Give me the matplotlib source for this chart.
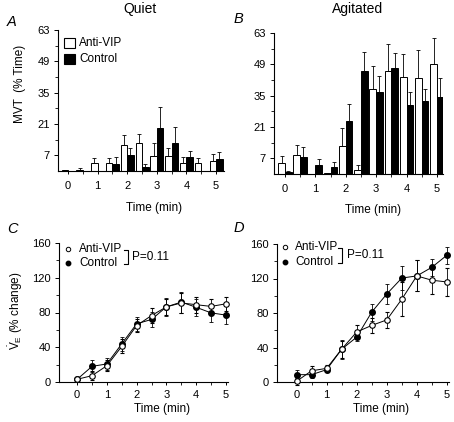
import numpy as np
import matplotlib
matplotlib.use("Agg")
import matplotlib.pyplot as plt
from matplotlib.lines import Line2D
from matplotlib.patches import Rectangle

plt.rcParams['font.family'] = ['Liberation Sans', 'DejaVu Sans']
plt.rcParams['mathtext.fontset'] = 'custom'
plt.rcParams['mathtext.rm'] = 'Liberation Sans'
plt.rcParams['mathtext.it'] = 'Liberation Sans:italic'

nan = np.nan
times = [0, 0.5, 1, 1.5, 2, 2.5, 3, 3.5, 4, 4.5, 5]

# Panel A (Quiet) MVT % time
anti_quiet = [0.4, 0.6, 3.4, 3.4, 11.5, 12.4, 6.9, 6.9, 3.4, 3.4, 4.4]
anti_quiet_err = [nan, 0.7, 2.4, 2.4, 4.4, 4.2, 5.5, 3.4, 2.7, 2.6, 3.2]
ctrl_quiet = [0, 0, 0, 3.1, 7.1, 2.0, 19.2, 12.4, 6.1, 0, 5.5]
ctrl_quiet_err = [nan, nan, nan, 3.0, 3.2, 1.1, 9.5, 7.1, 2.9, nan, 3.2]

# Panel B (Agitated)
anti_ag = [4.8, 8.5, 0, 0.6, 12.7, 1.8, 37.9, 46.2, 43.5, 42.8, 49.3]
anti_ag_err = [3.2, 4.6, nan, nan, 7.7, 2.2, 10.5, 11.9, 10.1, 12.6, 11.4]
ctrl_ag = [0.7, 7.6, 4.2, 3.3, 23.5, 45.9, 36.8, 47.2, 31.0, 32.5, 34.4]
ctrl_ag_err = [0.6, 4.6, 2.7, 2.2, 7.8, 8.6, 7.2, 6.7, 5.8, 5.5, 8.4]

# Panel C (Quiet) VE % change
anti_c = [3.1, 7.3, 18.8, 41, 65, 76.5, 86.5, 91, 89, 87, 90]
anti_c_err = [2, 5, 6, 8, 7, 9, 9, 12, 9, 8, 8]
ctrl_c = [3.1, 18, 20.8, 44, 67, 72, 86.5, 92, 86, 79.6, 77]
ctrl_c_err = [2, 7, 7, 8, 8, 9, 10, 12, 10, 10, 10]

# Panel D (Agitated)
anti_d = [0.8, 13, 15.8, 38, 58, 65.6, 72, 96, 123, 118, 116]
anti_d_err = [4, 5, 4, 10, 8, 9, 9, 20, 18, 16, 16]
ctrl_d = [8.5, 8.5, 14.3, 38, 52, 81, 102, 120.5, 123, 133, 147]
ctrl_d_err = [5, 4, 3, 11, 5, 10, 12, 14, 18, 10, 10]

W, H = 454, 422
fig = plt.figure(figsize=(W / 100, H / 100), dpi=100)


def axes_px(l, t, r, b):
    return fig.add_axes([l / W, 1 - b / H, (r - l) / W, (b - t) / H])


def ftext(x, y, s, **kw):
    fig.text(x / W, 1 - y / H, s, **kw)


def style(ax):
    for s in ['top', 'right']:
        ax.spines[s].set_visible(False)
    for s in ['left', 'bottom']:
        ax.spines[s].set_linewidth(0.8)
    ax.tick_params(axis='both', which='major', direction='out', length=3, width=0.7,
                   labelsize=8, pad=2)
    ax.tick_params(axis='y', which='major', pad=3)
    ax.tick_params(axis='both', which='minor', direction='out', length=2, width=0.6)


bw = 0.22


def bar_panel(ax, anti, anti_err, ctrl, ctrl_err, xlim):
    t = np.array(times)
    a = np.array(anti, float)
    c = np.array(ctrl, float)
    ax.bar(t - bw / 2, a, width=bw, color='white', edgecolor='black', linewidth=0.7, zorder=2)
    ax.bar(t + bw / 2, c, width=bw, color='black', edgecolor='black', linewidth=0.7, zorder=2)
    ae = np.array(anti_err, float)
    ce = np.array(ctrl_err, float)
    ax.errorbar(t - bw / 2, a, yerr=[np.zeros_like(ae), ae], fmt='none', ecolor='black',
                elinewidth=0.6, capsize=1.5, capthick=0.6, zorder=1)
    ax.errorbar(t + bw / 2, c, yerr=[np.zeros_like(ce), ce], fmt='none', ecolor='black',
                elinewidth=0.6, capsize=1.5, capthick=0.6, zorder=1)
    ax.set_ylim(0, 63)
    ax.set_xlim(*xlim)
    ax.set_yticks([7, 21, 35, 49, 63])
    ax.set_yticks([14, 28, 42, 56], minor=True)
    ax.set_xticks([0, 1, 2, 3, 4, 5])
    ax.set_xticks([0.5, 1.5, 2.5, 3.5, 4.5], minor=True)
    style(ax)
    ax.tick_params(axis='x', which='major', length=2, pad=5)
    ax.tick_params(axis='x', which='minor', length=2)


def line_panel(ax, anti, anti_err, ctrl, ctrl_err, xlim):
    t = np.array(times)
    ax.errorbar(t, ctrl, yerr=ctrl_err, fmt='-o', color='black', mfc='black', mec='black',
                ms=4, lw=0.7, elinewidth=0.6, capsize=1.5, capthick=0.6, clip_on=False, zorder=2)
    ax.errorbar(t, anti, yerr=anti_err, fmt='-o', color='black', mfc='white', mec='black',
                ms=4, mew=0.8, lw=0.7, elinewidth=0.6, capsize=1.5, capthick=0.6,
                clip_on=False, zorder=3)
    ax.set_ylim(0, 160)
    ax.set_xlim(*xlim)
    ax.set_yticks([0, 40, 80, 120, 160])
    ax.set_yticks([20, 60, 100, 140], minor=True)
    ax.set_xticks([0, 1, 2, 3, 4, 5])
    ax.set_xticks([0.5, 1.5, 2.5, 3.5, 4.5], minor=True)
    style(ax)
    ax.tick_params(axis='x', which='both', length=2, pad=4)


# Panel A
axA = axes_px(58, 30, 224, 171)
bar_panel(axA, anti_quiet, anti_quiet_err, ctrl_quiet, ctrl_quiet_err, (-0.34, 5.27))
axA.set_ylabel('MVT  (% Time)', fontsize=8.5)
axA.yaxis.set_label_coords(-0.195, 0.62)
axA.set_xlabel('Time (min)', fontsize=8.5)
axA.xaxis.set_label_coords(0.58, -0.22)

# Panel B
axB = axes_px(274, 33, 443, 174)
bar_panel(axB, anti_ag, anti_ag_err, ctrl_ag, ctrl_ag_err, (-0.36, 5.2))
axB.set_xlabel('Time (min)', fontsize=8.5)
axB.xaxis.set_label_coords(0.586, -0.21)

# Panel C
axC = axes_px(59, 243, 228, 382)
line_panel(axC, anti_c, anti_c_err, ctrl_c, ctrl_c_err, (-0.61, 5.07))
axC.set_ylabel(r'$\dot{\mathrm{V}}_{\mathrm{E}}$ (% change)', fontsize=8.5)
axC.yaxis.set_label_coords(-0.2, 0.51)
axC.set_xlabel('Time (min)', fontsize=8.5)
axC.xaxis.set_label_coords(0.61, -0.15)

# Panel D
axD = axes_px(277, 244, 449, 382)
line_panel(axD, anti_d, anti_d_err, ctrl_d, ctrl_d_err, (-0.65, 5.07))
axD.set_xlabel('Time (min)', fontsize=8.5)
axD.xaxis.set_label_coords(0.605, -0.15)

# Titles and panel letters
ftext(140, 9, 'Quiet', fontsize=10, ha='center', va='center')
ftext(358, 9, 'Agitated', fontsize=10, ha='center', va='center')
ftext(12, 22, 'A', fontsize=10.5, style='italic', ha='center', va='center')
ftext(238, 19, 'B', fontsize=10.5, style='italic', ha='center', va='center')
ftext(13, 229, 'C', fontsize=10.5, style='italic', ha='center', va='center')
ftext(239, 228, 'D', fontsize=10.5, style='italic', ha='center', va='center')

# Legend panel A
fig.add_artist(Rectangle((64 / W, 1 - 48 / H), 11 / W, 10 / H, transform=fig.transFigure,
                         facecolor='white', edgecolor='black', linewidth=0.8))
fig.add_artist(Rectangle((64 / W, 1 - 64 / H), 11 / W, 10 / H, transform=fig.transFigure,
                         facecolor='black', edgecolor='black', linewidth=0.8))
ftext(79, 43, 'Anti-VIP', fontsize=8.5, ha='left', va='center')
ftext(79, 59, 'Control', fontsize=8.5, ha='left', va='center')


def line_legend(mx, y1, y2, tx, bx, px):
    fig.add_artist(Line2D([mx / W], [1 - y1 / H], marker='o', ms=3.2, mfc='white', mec='black',
                          mew=0.7, transform=fig.transFigure))
    fig.add_artist(Line2D([mx / W], [1 - y2 / H], marker='o', ms=3.2, mfc='black', mec='black',
                          transform=fig.transFigure))
    ftext(tx, y1, 'Anti-VIP', fontsize=8.5, ha='left', va='center')
    ftext(tx, y2, 'Control', fontsize=8.5, ha='left', va='center')
    fig.add_artist(Line2D([(bx - 4) / W, bx / W, bx / W, (bx - 4) / W],
                          [1 - (y1 + 1) / H, 1 - (y1 + 1) / H, 1 - (y2 + 1) / H, 1 - (y2 + 1) / H],
                          color='black', lw=0.8, transform=fig.transFigure))
    ftext(px, (y1 + y2) / 2 + 1, 'P=0.11', fontsize=8.5, ha='left', va='center')


line_legend(68, 249, 263, 79, 128, 132)
line_legend(285, 247, 262, 295, 342, 347)

fig.savefig('out.png', dpi=100)
